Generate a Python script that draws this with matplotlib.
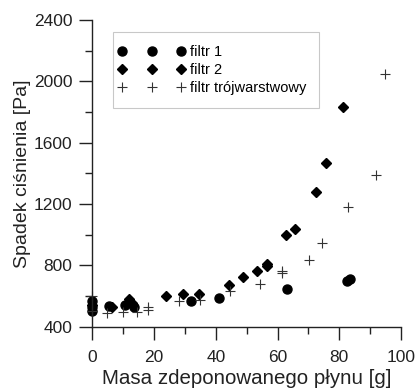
import numpy as np
import matplotlib
matplotlib.use("Agg")
import matplotlib.pyplot as plt
from matplotlib.ticker import MultipleLocator
from matplotlib.legend_handler import HandlerLine2D

plt.rcParams['font.family'] = ['Liberation Sans', 'DejaVu Sans']

# filtr 1 (kółka)
f1_x = [0, 0, 0, 5.5, 10.5, 12, 13.5, 32, 41, 63, 82.5, 83.5]
f1_y = [570, 530, 500, 535, 540, 560, 530, 565, 585, 645, 695, 710]

# filtr 2 (romby)
f2_x = [0, 6.5, 12, 13, 24, 29.3, 34.7, 44.3, 48.9, 53.3, 56.7, 56.7,
        62.7, 65.6, 72.5, 75.7, 81.3]
f2_y = [545, 530, 580, 555, 603, 612, 615, 670, 727, 766, 812, 795,
        995, 1035, 1280, 1470, 1835]

# filtr trójwarstwowy (krzyżyki)
f3_x = [0, 0, 4.7, 9.8, 14.6, 18, 18, 28.2, 34.9, 44.6, 54.4, 61.3, 61.3,
        70.3, 74.3, 82.9, 91.8, 94.8]
f3_y = [600, 500, 490, 498, 494, 512, 530, 565, 575, 630, 677, 766, 748,
        838, 945, 1180, 1388, 2045]

fig = plt.figure(figsize=(4.16, 3.89), dpi=100)
ax = fig.add_axes([0.222, 0.160, 0.742, 0.789])

ax.plot(f1_x, f1_y, 'o', color='black', markersize=6.5, clip_on=False, label='filtr 1')
ax.plot(f2_x, f2_y, 'D', color='black', markersize=4.8, clip_on=False, label='filtr 2')
ax.plot(f3_x, f3_y, '+', color='#333333', markersize=7.5, markeredgewidth=0.8,
        clip_on=False, label='filtr trójwarstwowy')

ax.set_xlim(0, 100)
ax.set_ylim(400, 2400)
ax.xaxis.set_major_locator(MultipleLocator(20))
ax.xaxis.set_minor_locator(MultipleLocator(10))
ax.yaxis.set_major_locator(MultipleLocator(400))
ax.yaxis.set_minor_locator(MultipleLocator(200))

ax.spines['top'].set_visible(False)
ax.spines['right'].set_visible(False)
for s in ['left', 'bottom']:
    ax.spines[s].set_linewidth(1.0)
    ax.spines[s].set_color('#222222')

ax.tick_params(which='major', length=9.5, width=1.0, labelsize=12.5,
               color='#222222', labelcolor='#222222')
ax.tick_params(axis='x', which='major', pad=7)
ax.tick_params(axis='y', which='major', pad=5)
ax.tick_params(which='minor', length=5, width=1.0, color='#222222')

ax.set_xlabel("Masa zdeponowanego płynu [g]", fontsize=14.8, color='#222222', labelpad=3)
ax.set_ylabel("Spadek ciśnienia [Pa]", fontsize=14, color='#222222', labelpad=2)

leg = ax.legend(loc='upper left', bbox_to_anchor=(0.068, 0.961), numpoints=3,
                fontsize=10.5, fancybox=False, edgecolor='#bbbbbb',
                handlelength=3.45, handletextpad=0.88, borderpad=0.9,
                borderaxespad=0, labelspacing=0.28,
                handler_map={plt.Line2D: HandlerLine2D(marker_pad=-0.28)})
leg.get_frame().set_linewidth(0.8)

fig.savefig("out.png", dpi=100)
